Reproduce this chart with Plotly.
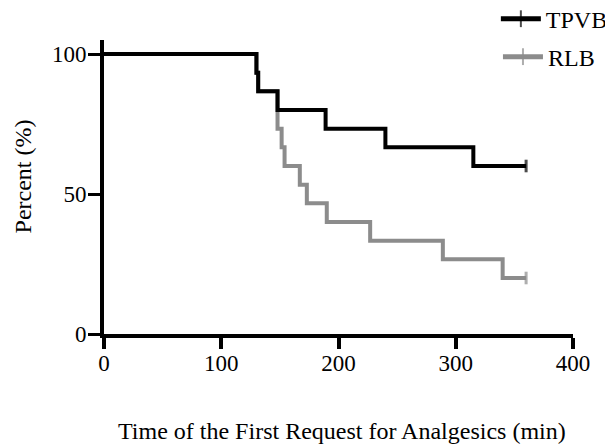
import plotly.graph_objects as go

# Kaplan-Meier style step data (time in min, percent)
tpvb_time = [0, 130, 131.5, 148, 189, 240, 315, 360]
tpvb_pct = [100, 93.33, 86.67, 80, 73.33, 66.67, 60, 60]

rlb_time = [0, 130, 131.5, 148, 151.5, 154, 167, 173, 190, 227, 289, 340, 360]
rlb_pct = [100, 93.33, 86.67, 73.33, 66.67, 60, 53.33, 46.67, 40, 33.33, 26.67, 20, 20]

x_ticks = [0, 100, 200, 300, 400]
y_ticks = [0, 50, 100]

x_title = "Time of the First Request for Analgesics (min)"
y_title = "Percent (%)"

FONT = "Liberation Serif"
GRAY = "#8c8c8c"

def censor_sizes(n):
    return [0] * (n - 1) + [9]

fig = go.Figure()

fig.add_trace(go.Scatter(
    x=rlb_time, y=rlb_pct, name="RLB", mode="lines+markers",
    line=dict(color=GRAY, width=4, shape="hv"),
    marker=dict(symbol="line-ns", size=censor_sizes(len(rlb_time)),
                line=dict(color=GRAY, width=3)),
    legend="legend2", showlegend=True,
))
fig.add_trace(go.Scatter(
    x=tpvb_time, y=tpvb_pct, name="TPVB", mode="lines+markers",
    line=dict(color="black", width=4, shape="hv"),
    marker=dict(symbol="line-ns", size=censor_sizes(len(tpvb_time)),
                line=dict(color="black", width=3)),
    legend="legend", showlegend=True,
))

legend_common = dict(yanchor="middle",
                     font=dict(family=FONT, size=24, color="black"),
                     bgcolor="rgba(0,0,0,0)", itemsizing="constant", itemwidth=40)

# page body has an 8px default margin, so the figure is 8px smaller
fig.update_layout(
    width=605, height=437,
    margin=dict(l=96, r=40, t=32, b=111, autoexpand=False),
    showlegend=True,
    paper_bgcolor="white", plot_bgcolor="white",
    font=dict(family=FONT, size=23, color="black"),
    legend=dict(x=1.085, xanchor="right", y=1.071, **legend_common),
    legend2=dict(x=0.84, xanchor="left", y=0.942, **legend_common),
    xaxis=dict(
        range=[0, 400], tickvals=x_ticks, ticktext=[str(v) for v in x_ticks],
        showgrid=False, zeroline=False, showline=True, linecolor="black", linewidth=4,
        ticks="outside", ticklen=11, tickwidth=4, tickcolor="black",
        ticklabelstandoff=-6,
        tickfont=dict(family=FONT, size=23, color="black"),
    ),
    yaxis=dict(
        range=[0, 105], tickvals=y_ticks, ticktext=[str(v) for v in y_ticks],
        showgrid=False, zeroline=False, showline=True, linecolor="black", linewidth=4,
        ticks="outside", ticklen=12, tickwidth=3, tickcolor="black",
        ticklabelstandoff=-3,
        tickfont=dict(family=FONT, size=23, color="black"),
    ),
    annotations=[
        dict(text=x_title, xref="paper", yref="paper", x=0.508, y=-0.33,
             xanchor="center", yanchor="middle", showarrow=False,
             font=dict(family=FONT, size=24, color="black")),
        dict(text=y_title, xref="paper", yref="paper", x=-0.172, y=0.537,
             xanchor="center", yanchor="middle", showarrow=False, textangle=-90,
             font=dict(family=FONT, size=24, color="black")),
    ],
)

fig.write_html("out.html")
